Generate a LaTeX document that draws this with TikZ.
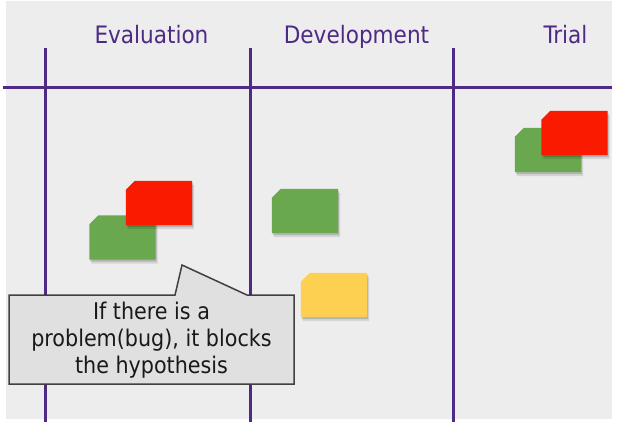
\documentclass[tikz,border=0pt]{standalone}
\usepackage{fontspec}
\setmainfont{DejaVu Sans Condensed}
\usetikzlibrary{calc,shadows}

\definecolor{bg}{HTML}{EDEDED}
\definecolor{lane}{HTML}{4E2A84}
\definecolor{cgreen}{HTML}{6AA84F}
\definecolor{cred}{HTML}{FA1A00}
\definecolor{cyellow}{HTML}{FDD052}
\definecolor{callfill}{HTML}{E0E0E0}
\definecolor{calldraw}{HTML}{404040}

\newcommand{\kcard}[3]{%
  \node[cardbox] (#1) at (#2) {};
  \fill[#3, cardshadow] ($(#1.north west)+(0,9)$) -- ($(#1.north west)+(9,0)$)
    -- (#1.north east) -- (#1.south east) -- (#1.south west) -- cycle;}

\begin{document}
\begin{tikzpicture}[x=1pt,y=-1pt,
  laneline/.style={draw=lane, line width=3pt},
  header/.style={text=lane, font=\fontsize{24}{28}\selectfont, anchor=base, inner sep=0pt},
  cardbox/.style={rectangle, minimum width=66pt, minimum height=44pt, inner sep=0pt, draw=none},
  cardshadow/.style={
    drop shadow={shadow xshift=1pt, shadow yshift=-2pt, opacity=0.15, fill=black},
    drop shadow={shadow xshift=2pt, shadow yshift=-4pt, opacity=0.10, fill=black}},
  callout/.style={fill=callfill, draw=calldraw, line width=1.5pt, line join=miter},
  msg/.style={align=center, text=black!90, font=\fontsize{23}{27}\selectfont, inner sep=0pt},
]
\useasboundingbox (0,0) rectangle (618,424);
\fill[bg] (6,1) rectangle (612,419);

% lanes
\coordinate (l1t) at (45,48);  \coordinate (l1b) at (45,422);
\coordinate (l2t) at (250,48); \coordinate (l2b) at (250,422);
\coordinate (l3t) at (453,48); \coordinate (l3b) at (453,422);
\coordinate (hl) at (3,87);    \coordinate (hr) at (612,87);
\draw[laneline] (l1t) -- (l1b);
\draw[laneline] (l2t) -- (l2b);
\draw[laneline] (l3t) -- (l3b);
\draw[laneline] (hl) -- (hr);

% headers
\node[header] (heval) at (151.5,43) {Evaluation};
\node[header] (hdev) at (356.5,43) {Development};
\node[header] (htrial) at (565.5,43) {Trial};

% cards
\kcard{eg}{122.5,237.5}{cgreen}
\kcard{er}{159,203}{cred}
\kcard{dg}{305,211}{cgreen}
\kcard{dy}{334,295}{cyellow}
\kcard{tg}{548,150}{cgreen}
\kcard{tr}{574.5,133}{cred}

% callout
\draw[callout] (9,295) -- (175,295) -- (182,265) -- (247,295) -- (294,295)
  -- (294,384) -- (9,384) -- cycle;
\node[msg] (note) at (151.5,340) {If there is a\\problem(bug), it blocks\\the hypothesis};
\end{tikzpicture}
\end{document}
